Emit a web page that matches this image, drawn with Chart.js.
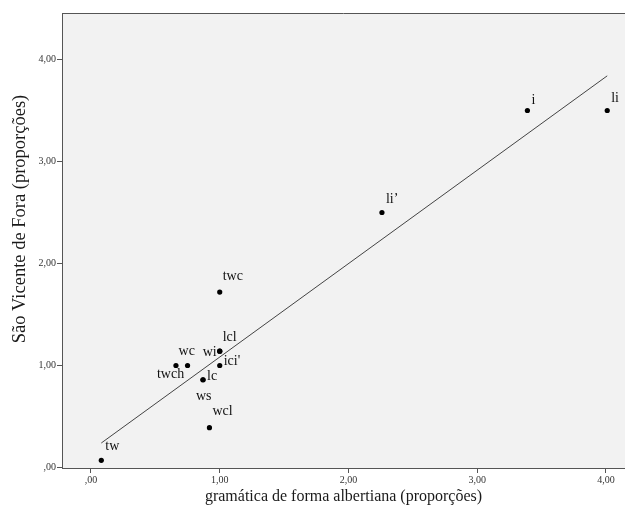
<!DOCTYPE html>
<html>
<head>
<meta charset="utf-8">
<script src="https://cdn.jsdelivr.net/npm/chart.js@4/dist/chart.umd.min.js"></script>
<style>
  html, body { margin: 0; padding: 0; background: #ffffff; }
  #wrap { width: 625px; height: 506px; position: relative; }
</style>
</head>
<body>
<div id="wrap"><canvas id="c"></canvas></div>
<script>
// Case labels and their proportions on each axis
const caseLabels = ['tw', 'twch', 'wc', 'wi', 'lcl', "ici'", 'lc', 'ws', 'wcl', 'twc', 'li’', 'i', 'li'];
const albertiValues = [0.08, 0.66, 0.75, 1.00, 1.00, 1.00, 0.87, 0.87, 0.92, 1.00, 2.26, 3.39, 4.01];
const saoVicenteValues = [0.07, 1.00, 1.00, 1.14, 1.14, 1.00, 0.86, 0.86, 0.39, 1.72, 2.50, 3.50, 3.50];

// Fitted linear trend, endpoints
const fitX = [0.08, 4.01];
const fitY = [0.24, 3.84];

// Axis ticks
const tickValues = [0, 1, 2, 3, 4];
const tickText = [',00', '1,00', '2,00', '3,00', '4,00'];

// Axis titles
const xTitle = 'gramática de forma albertiana (proporções)';
const yTitle = 'São Vicente de Fora (proporções)';

// Label placement relative to each marker (pixels: left edge, vertical middle)
const labelOffsets = [
  [4, -14], [-19, 9], [-9, -14], [-17, 1], [3, -14], [4, -4],
  [4, -3], [-7, 17], [3, -16], [3, -16], [4, -13], [4, -10], [4, -12]
];

const SERIF = '"Liberation Serif", "DejaVu Serif", serif';
const AXIS_COLOR = '#555555';

const points = albertiValues.map((x, i) => ({ x: x, y: saoVicenteValues[i] }));
const fitLine = fitX.map((x, i) => ({ x: x, y: fitY[i] }));

const plotBackground = {
  id: 'plotBackground',
  beforeDraw(chart) {
    const { ctx, chartArea: a } = chart;
    ctx.save();
    ctx.fillStyle = '#f2f2f2';
    ctx.fillRect(a.left, a.top, a.right - a.left, a.bottom - a.top);
    ctx.restore();
  },
  afterDraw(chart) {
    const { ctx, chartArea: a } = chart;
    ctx.save();
    // top frame line
    ctx.strokeStyle = AXIS_COLOR;
    ctx.lineWidth = 1;
    ctx.beginPath();
    ctx.moveTo(a.left, a.top + 0.5);
    ctx.lineTo(a.right, a.top + 0.5);
    ctx.stroke();
    // vertical axis title
    ctx.translate(20, 219);
    ctx.rotate(-Math.PI / 2);
    ctx.font = '18.5px ' + SERIF;
    ctx.fillStyle = '#1a1a1a';
    ctx.textAlign = 'center';
    ctx.textBaseline = 'middle';
    ctx.fillText(yTitle, 0, 0);
    ctx.restore();
  }
};

const pointLabels = {
  id: 'pointLabels',
  afterDatasetsDraw(chart) {
    const { ctx } = chart;
    const meta = chart.getDatasetMeta(0);
    ctx.save();
    ctx.font = '14px ' + SERIF;
    ctx.fillStyle = '#111111';
    ctx.textAlign = 'left';
    ctx.textBaseline = 'middle';
    meta.data.forEach((el, i) => {
      const off = labelOffsets[i];
      ctx.fillText(caseLabels[i], el.x + off[0], el.y + off[1]);
    });
    ctx.restore();
  }
};

function fmtTick(v) {
  const idx = tickValues.indexOf(v);
  return idx >= 0 ? tickText[idx] : '';
}

new Chart(document.getElementById('c'), {
  type: 'scatter',
  data: {
    datasets: [
      {
        data: points,
        pointRadius: 2.6,
        pointHoverRadius: 2.6,
        pointBackgroundColor: '#000000',
        pointBorderWidth: 0,
        showLine: false
      },
      {
        type: 'line',
        data: fitLine,
        borderColor: '#444444',
        borderWidth: 1,
        pointRadius: 0,
        fill: false,
        tension: 0
      }
    ]
  },
  options: {
    responsive: true,
    maintainAspectRatio: false,
    animation: false,
    events: [],
    layout: { autoPadding: false, padding: { top: 13, right: 0, left: 0, bottom: 0 } },
    plugins: {
      legend: { display: false },
      tooltip: { enabled: false }
    },
    scales: {
      x: {
        type: 'linear',
        min: -0.2252,
        max: 4.148,
        afterBuildTicks(scale) { scale.ticks = tickValues.map(v => ({ value: v })); },
        afterFit(scale) {
          scale.height = 38;
          scale.paddingLeft = 0;
          scale.paddingRight = 0;
        },
        grid: { drawOnChartArea: false, drawTicks: true, tickLength: 5, color: AXIS_COLOR },
        border: { display: true, color: AXIS_COLOR, width: 1 },
        ticks: {
          callback: fmtTick,
          font: { family: SERIF, size: 10 },
          color: '#333333',
          padding: 1,
          maxRotation: 0,
          autoSkip: false
        },
        title: {
          display: true,
          text: xTitle,
          font: { family: SERIF, size: 16 },
          color: '#1a1a1a',
          padding: { top: 0, bottom: 0 }
        }
      },
      y: {
        type: 'linear',
        min: -0.005,
        max: 4.456,
        afterBuildTicks(scale) { scale.ticks = tickValues.map(v => ({ value: v })); },
        afterFit(scale) {
          scale.width = 62;
          scale.paddingTop = 0;
          scale.paddingBottom = 0;
        },
        grid: { drawOnChartArea: false, drawTicks: true, tickLength: 5, color: AXIS_COLOR },
        border: { display: true, color: AXIS_COLOR, width: 1 },
        ticks: {
          callback: fmtTick,
          font: { family: SERIF, size: 10 },
          color: '#333333',
          padding: 1,
          autoSkip: false
        }
      }
    }
  },
  plugins: [plotBackground, pointLabels]
});
</script>
</body>
</html>
